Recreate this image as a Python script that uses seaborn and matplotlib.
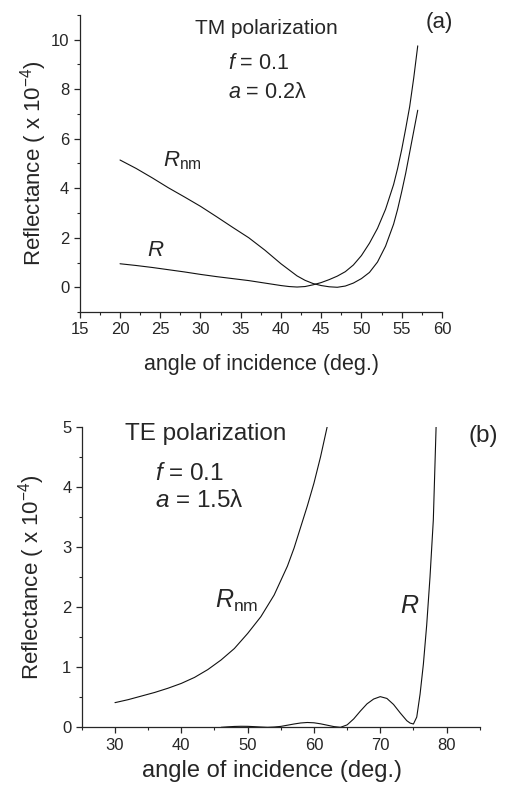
import numpy as np
import pandas as pd
import seaborn as sns
import matplotlib
matplotlib.use('Agg')
import matplotlib.pyplot as plt
from matplotlib.ticker import MultipleLocator

# panel (a): TM polarization, f = 0.1, a = 0.2 lambda
tm_angle_rnm = [20, 22, 24, 26, 28, 30, 32, 34, 36, 38, 40, 42, 43, 44, 45, 46,
                47, 48, 49, 50, 51, 52, 53, 54, 54.5, 55, 55.5, 56, 56.5, 57]
tm_rnm = [5.14, 4.80, 4.42, 4.02, 3.65, 3.27, 2.85, 2.42, 2.00, 1.50, 0.95, 0.46,
          0.28, 0.15, 0.07, 0.02, 0.00, 0.05, 0.17, 0.35, 0.60, 1.02, 1.66, 2.55,
          3.15, 3.85, 4.60, 5.45, 6.30, 7.15]
tm_angle_r = [20, 22, 24, 26, 28, 30, 32, 34, 36, 38, 40, 41, 42, 43, 44, 45, 46,
              47, 48, 49, 50, 51, 52, 53, 54, 54.5, 55, 55.5, 56, 56.5, 57]
tm_r = [0.95, 0.88, 0.80, 0.71, 0.62, 0.52, 0.43, 0.35, 0.27, 0.17, 0.07, 0.03,
        0.01, 0.03, 0.10, 0.19, 0.31, 0.45, 0.63, 0.90, 1.28, 1.78, 2.38, 3.15,
        4.15, 4.80, 5.55, 6.40, 7.30, 8.45, 9.75]

# panel (b): TE polarization, f = 0.1, a = 1.5 lambda
te_angle_rnm = [30, 32, 34, 36, 38, 40, 42, 44, 46, 48, 50, 52, 54, 56, 57, 58,
                59, 60, 61, 62]
te_rnm = [0.41, 0.46, 0.52, 0.58, 0.65, 0.73, 0.83, 0.96, 1.12, 1.31, 1.56, 1.84,
          2.20, 2.68, 2.98, 3.33, 3.68, 4.06, 4.50, 5.00]
te_angle_r = [46, 47, 48, 49, 50, 51, 52, 53, 54, 55, 56, 57, 58, 59, 60, 61, 62,
              63, 64, 65, 66, 67, 68, 69, 70, 71, 72, 73, 74, 74.5, 75, 75.5, 76,
              76.5, 77, 77.5, 78, 78.5]
te_r = [0.0, 0.008, 0.014, 0.017, 0.016, 0.011, 0.005, 0.0, 0.005, 0.015, 0.035,
        0.055, 0.072, 0.08, 0.075, 0.058, 0.035, 0.012, 0.0, 0.04, 0.14, 0.27,
        0.39, 0.47, 0.51, 0.48, 0.38, 0.24, 0.11, 0.07, 0.055, 0.17, 0.55, 1.05,
        1.70, 2.50, 3.45, 5.30]

sns.set_style("ticks")
plt.rcParams['font.family'] = ['Liberation Sans', 'DejaVu Sans']
plt.rcParams['mathtext.fontset'] = 'custom'
plt.rcParams['mathtext.rm'] = 'Liberation Sans'
plt.rcParams['mathtext.it'] = 'Liberation Sans:italic'
plt.rcParams['axes.linewidth'] = 0.9

fig = plt.figure(figsize=(5.05, 7.85), dpi=100)
ax_a = fig.add_axes([0.158, 0.6025, 0.717, 0.3785])
ax_b = fig.add_axes([0.162, 0.0735, 0.788, 0.383])

line_kw = dict(color='#111111', linewidth=0.8, sort=False, estimator=None)

df = pd.DataFrame({'angle': tm_angle_rnm, 'refl': tm_rnm})
sns.lineplot(data=df, x='angle', y='refl', ax=ax_a, **line_kw)
df = pd.DataFrame({'angle': tm_angle_r, 'refl': tm_r})
sns.lineplot(data=df, x='angle', y='refl', ax=ax_a, **line_kw)

df = pd.DataFrame({'angle': te_angle_rnm, 'refl': te_rnm})
sns.lineplot(data=df, x='angle', y='refl', ax=ax_b, **line_kw)
df = pd.DataFrame({'angle': te_angle_r, 'refl': te_r})
sns.lineplot(data=df, x='angle', y='refl', ax=ax_b, **line_kw)

for ax in (ax_a, ax_b):
    sns.despine(ax=ax)
    ax.tick_params(which='major', direction='out', length=4.5, width=0.9,
                   labelsize=12, pad=3)
    ax.tick_params(which='minor', direction='out', length=2.5, width=0.8)

# panel (a) axes
ax_a.set_xlim(15, 60)
ax_a.set_ylim(-1, 11)
ax_a.xaxis.set_major_locator(MultipleLocator(5))
ax_a.xaxis.set_minor_locator(MultipleLocator(2.5))
ax_a.set_yticks([0, 2, 4, 6, 8, 10])
ax_a.yaxis.set_minor_locator(MultipleLocator(1))
ax_a.set_xlabel('angle of incidence (deg.)', fontsize=15.5)
ax_a.set_ylabel('Reflectance ( x 10$^{-4}$)', fontsize=16)
ax_a.xaxis.set_label_coords(0.503, -0.141)
ax_a.yaxis.set_label_coords(-0.086, 0.5)

ax_a.text(38.2, 10.22, 'TM polarization', fontsize=15, ha='center', va='baseline')
ax_a.text(59.7, 10.49, '(a)', fontsize=16, ha='center', va='baseline')
ax_a.text(33.4, 8.80, '$f$ = 0.1', fontsize=15.5, ha='left', va='baseline')
ax_a.text(33.4, 7.66, '$a$ = 0.2\u03bb', fontsize=15.5, ha='left', va='baseline')
ax_a.text(25.3, 4.89, '$R_{\\mathrm{nm}}$', fontsize=16, ha='left', va='baseline')
ax_a.text(23.4, 1.28, '$R$', fontsize=16, ha='left', va='baseline')

# panel (b) axes
ax_b.set_xlim(25, 85)
ax_b.set_ylim(0, 5)
ax_b.set_xticks([30, 40, 50, 60, 70, 80])
ax_b.xaxis.set_minor_locator(MultipleLocator(5))
ax_b.yaxis.set_major_locator(MultipleLocator(1))
ax_b.yaxis.set_minor_locator(MultipleLocator(0.5))
ax_b.set_xlabel('angle of incidence (deg.)', fontsize=17)
ax_b.set_ylabel('Reflectance ( x 10$^{-4}$)', fontsize=16)
ax_b.xaxis.set_label_coords(0.477, -0.11)
ax_b.yaxis.set_label_coords(-0.088, 0.5)

ax_b.text(43.7, 4.78, 'TE polarization', fontsize=17.5, ha='center', va='baseline')
ax_b.text(85.5, 4.75, '(b)', fontsize=17.5, ha='center', va='baseline')
ax_b.text(36.0, 4.11, '$f$ = 0.1', fontsize=17.5, ha='left', va='baseline')
ax_b.text(36.0, 3.67, '$a$ = 1.5\u03bb', fontsize=17.5, ha='left', va='baseline')
ax_b.text(45.1, 1.98, '$R_{\\mathrm{nm}}$', fontsize=18, ha='left', va='baseline')
ax_b.text(73.0, 1.90, '$R$', fontsize=18, ha='left', va='baseline')

fig.savefig('out.png', dpi=100, facecolor='white')
